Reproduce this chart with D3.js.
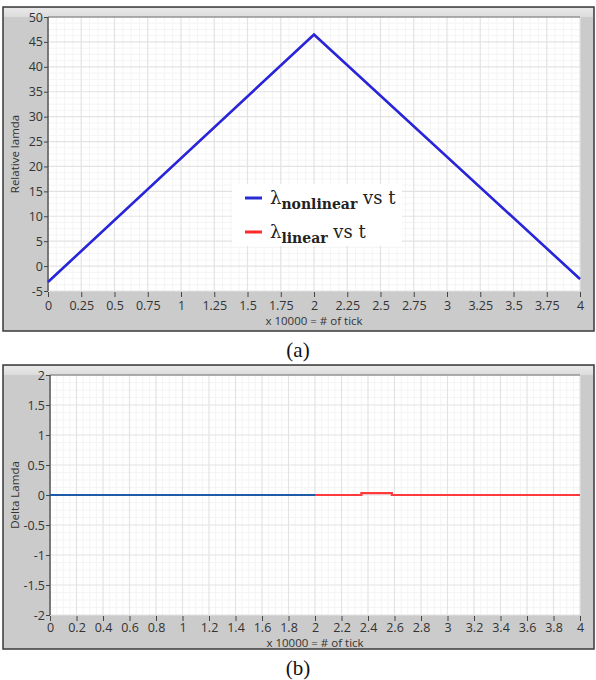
<!DOCTYPE html>
<html>
<head>
<meta charset="utf-8">
<script src="https://cdn.jsdelivr.net/npm/d3@7"></script>
<style>
  body { margin: 0; background: #fff; }
  svg { display: block; }
</style>
</head>
<body>
<div id="chart"></div>
<script>
// Panel (a): relative lamda, nonlinear vs linear
const topX = [0, 2, 4];
const topNonlinear = [-3.2, 46.5, -2.6];
const topLinear = [-3.2, 46.4, -2.6];
const topXTicks = [0, 0.25, 0.5, 0.75, 1, 1.25, 1.5, 1.75, 2, 2.25, 2.5, 2.75, 3, 3.25, 3.5, 3.75, 4];
const topYTicks = [-5, 0, 5, 10, 15, 20, 25, 30, 35, 40, 45, 50];

// Panel (b): delta lamda
const botBlueX = [0, 2];
const botBlueY = [0, 0];
const botRedX = [2, 2.35, 2.35, 2.58, 2.58, 4];
const botRedY = [0, 0, 0.03, 0.03, 0, 0];
const botXTicks = [0, 0.2, 0.4, 0.6, 0.8, 1, 1.2, 1.4, 1.6, 1.8, 2, 2.2, 2.4, 2.6, 2.8, 3, 3.2, 3.4, 3.6, 3.8, 4];
const botYTicks = [-2, -1.5, -1, -0.5, 0, 0.5, 1, 1.5, 2];

const legendLabels = [
    { sym: 'λ', sub: 'nonlinear', rest: ' vs  t', color: '#2b2bd6' },
    { sym: 'λ', sub: 'linear', rest: ' vs  t', color: '#ff2a2a' }
];

const W = 596, H = 680;
const svg = d3.select('#chart').append('svg')
    .attr('width', W).attr('height', H);

const defs = svg.append('defs');
const grad = defs.append('linearGradient')
    .attr('id', 'topstrip').attr('x1', 0).attr('y1', 0).attr('x2', 0).attr('y2', 1);
grad.append('stop').attr('offset', '0%').attr('stop-color', '#e9e9e9');
grad.append('stop').attr('offset', '100%').attr('stop-color', '#dcdcdc');

const tickFont = '"Open Sans", "DejaVu Sans", sans-serif';

function drawPanel(cfg) {
    const { frame, plot, xDomain, yDomain, xTicks, yTicks, xFmt, yFmt, yLabel, caption, labelGap } = cfg;
    const g = svg.append('g');

    // outer frame
    g.append('rect')
        .attr('x', frame.x).attr('y', frame.y)
        .attr('width', frame.w).attr('height', frame.h)
        .attr('fill', '#cbcbcb')
        .attr('stroke', '#3a3a3a').attr('stroke-width', 1.5);
    g.append('rect')
        .attr('x', frame.x + 1).attr('y', frame.y + 1)
        .attr('width', frame.w - 2).attr('height', plot.y - frame.y - 1)
        .attr('fill', 'url(#topstrip)');

    const x = d3.scaleLinear().domain(xDomain).range([plot.x, plot.x + plot.w]);
    const y = d3.scaleLinear().domain(yDomain).range([plot.y + plot.h, plot.y]);

    // plot background
    g.append('rect')
        .attr('x', plot.x).attr('y', plot.y)
        .attr('width', plot.w).attr('height', plot.h)
        .attr('fill', '#fff');

    // minor grid
    const minorX = [], minorY = [];
    for (let i = 0; i < xTicks.length - 1; i++) {
        const step = (xTicks[i + 1] - xTicks[i]) / 4;
        for (let k = 1; k < 4; k++) minorX.push(xTicks[i] + step * k);
    }
    for (let i = 0; i < yTicks.length - 1; i++) {
        const step = (yTicks[i + 1] - yTicks[i]) / 4;
        for (let k = 1; k < 4; k++) minorY.push(yTicks[i] + step * k);
    }
    g.append('g').selectAll('line').data(minorX).enter().append('line')
        .attr('x1', d => x(d)).attr('x2', d => x(d))
        .attr('y1', plot.y).attr('y2', plot.y + plot.h)
        .attr('stroke', '#f4f4f4').attr('stroke-width', 1);
    g.append('g').selectAll('line').data(minorY).enter().append('line')
        .attr('y1', d => y(d)).attr('y2', d => y(d))
        .attr('x1', plot.x).attr('x2', plot.x + plot.w)
        .attr('stroke', '#f4f4f4').attr('stroke-width', 1);

    // major grid
    g.append('g').selectAll('line').data(xTicks).enter().append('line')
        .attr('x1', d => x(d)).attr('x2', d => x(d))
        .attr('y1', plot.y).attr('y2', plot.y + plot.h)
        .attr('stroke', '#e3e3e3').attr('stroke-width', 1.2);
    g.append('g').selectAll('line').data(yTicks).enter().append('line')
        .attr('y1', d => y(d)).attr('y2', d => y(d))
        .attr('x1', plot.x).attr('x2', plot.x + plot.w)
        .attr('stroke', '#e3e3e3').attr('stroke-width', 1.2);

    // plot border top/left
    g.append('line')
        .attr('x1', plot.x).attr('x2', plot.x + plot.w)
        .attr('y1', plot.y).attr('y2', plot.y)
        .attr('stroke', '#6a6a6a').attr('stroke-width', 1);
    g.append('line')
        .attr('x1', plot.x).attr('x2', plot.x)
        .attr('y1', plot.y).attr('y2', plot.y + plot.h)
        .attr('stroke', '#555').attr('stroke-width', 1.5);

    // axes
    const xAxis = d3.axisBottom(x).tickValues(xTicks).tickFormat(xFmt)
        .tickSize(5).tickSizeOuter(0).tickPadding(labelGap);
    const yAxis = d3.axisLeft(y).tickValues(yTicks).tickFormat(yFmt)
        .tickSize(4).tickSizeOuter(0).tickPadding(1);

    const ax = g.append('g')
        .attr('transform', `translate(0,${plot.y + plot.h + 1})`)
        .call(xAxis);
    ax.select('.domain').remove();
    ax.selectAll('text').attr('font-family', tickFont).attr('font-size', 12.5).attr('fill', '#333');
    ax.selectAll('line').attr('stroke', '#444');

    const ay = g.append('g')
        .attr('transform', `translate(${plot.x},0)`)
        .call(yAxis);
    ay.select('.domain').remove();
    ay.selectAll('text').attr('font-family', tickFont).attr('font-size', 12.5).attr('fill', '#333');
    ay.selectAll('line').attr('stroke', '#444');

    // axis titles
    g.append('text')
        .attr('x', x((xDomain[0] + xDomain[1]) / 2))
        .attr('y', plot.y + plot.h + labelGap + 30)
        .attr('text-anchor', 'middle')
        .attr('font-family', tickFont).attr('font-size', 11.5)
        .attr('fill', '#333')
        .text('x 10000 = # of tick');
    g.append('text')
        .attr('transform', `translate(${frame.x + 16},${plot.y + plot.h / 2}) rotate(-90)`)
        .attr('text-anchor', 'middle')
        .attr('font-family', tickFont).attr('font-size', 11.5)
        .attr('fill', '#333')
        .text(yLabel);

    // caption
    svg.append('text')
        .attr('x', W / 2).attr('y', frame.y + frame.h + 26)
        .attr('text-anchor', 'middle')
        .attr('font-family', '"Liberation Serif", "DejaVu Serif", serif')
        .attr('font-size', 21)
        .attr('fill', '#111')
        .text(caption);

    return { g, x, y };
}

const line = (sx, sy) => d3.line().x(d => sx(d[0])).y(d => sy(d[1]));

// ---- Panel (a)
const pa = drawPanel({
    frame: { x: 3, y: 7, w: 591, h: 324 },
    plot: { x: 48, y: 17, w: 532, h: 274 },
    xDomain: [0, 4], yDomain: [-5, 50],
    xTicks: topXTicks, yTicks: topYTicks,
    xFmt: d => String(d), yFmt: d => String(d),
    yLabel: 'Relative lamda', caption: '(a)', labelGap: 4
});

pa.g.append('path')
    .datum(topX.map((v, i) => [v, topLinear[i]]))
    .attr('d', line(pa.x, pa.y))
    .attr('fill', 'none').attr('stroke', '#ff2a2a').attr('stroke-width', 1.6);
pa.g.append('path')
    .datum(topX.map((v, i) => [v, topNonlinear[i]]))
    .attr('d', line(pa.x, pa.y))
    .attr('fill', 'none').attr('stroke', '#2626dc').attr('stroke-width', 2.6);

// legend
const leg = pa.g.append('g').attr('transform', 'translate(232,184)');
leg.append('rect')
    .attr('width', 170).attr('height', 62)
    .attr('fill', '#fff');
legendLabels.forEach((d, i) => {
    const row = leg.append('g').attr('transform', `translate(0,${14 + i * 34})`);
    row.append('line')
        .attr('x1', 13).attr('x2', 30).attr('y1', 0).attr('y2', 0)
        .attr('stroke', d.color).attr('stroke-width', 3);
    const t = row.append('text')
        .attr('x', 38).attr('y', 6)
        .attr('font-family', '"DejaVu Serif", "Liberation Serif", serif')
        .attr('font-size', 18).attr('fill', '#222');
    t.append('tspan').text(d.sym);
    t.append('tspan').attr('dy', 5).attr('font-size', 14).attr('font-weight', 'bold').text(d.sub);
    t.append('tspan').attr('dy', -5).text(d.rest);
});

// ---- Panel (b)
const pb = drawPanel({
    frame: { x: 3, y: 365, w: 591, h: 284 },
    plot: { x: 50, y: 375, w: 530, h: 240 },
    xDomain: [0, 4], yDomain: [-2, 2],
    xTicks: botXTicks, yTicks: botYTicks,
    xFmt: d => String(d), yFmt: d => String(d),
    yLabel: 'Delta Lamda', caption: '(b)', labelGap: 2
});

pb.g.append('path')
    .datum(botBlueX.map((v, i) => [v, botBlueY[i]]))
    .attr('d', line(pb.x, pb.y))
    .attr('fill', 'none').attr('stroke', '#1f5aa6').attr('stroke-width', 2.2);
pb.g.append('path')
    .datum(botRedX.map((v, i) => [v, botRedY[i]]))
    .attr('d', line(pb.x, pb.y))
    .attr('fill', 'none').attr('stroke', '#ff3a3a').attr('stroke-width', 2.2);
</script>
</body>
</html>
